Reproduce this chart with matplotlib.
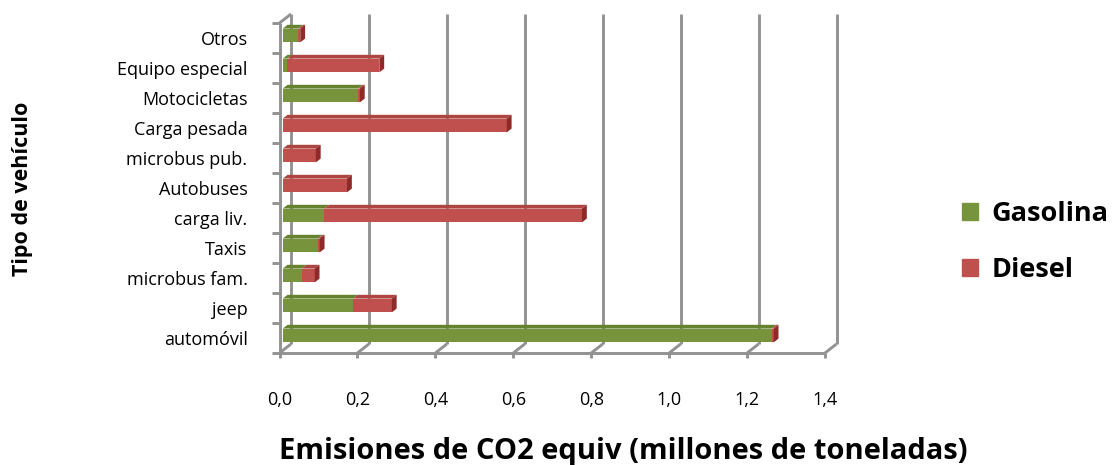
import matplotlib
matplotlib.use("Agg")
import matplotlib.pyplot as plt
from matplotlib.patches import Polygon, Patch

# Emissions by vehicle type (million tonnes CO2 equiv), bottom to top
categories = ["automóvil", "jeep", "microbus fam.", "Taxis", "carga liv.", "Autobuses",
              "microbus pub.", "Carga pesada", "Motocicletas", "Equipo especial", "Otros"]
gasolina = [1.255, 0.180, 0.049, 0.090, 0.107, 0.0, 0.0, 0.0, 0.193, 0.012, 0.040]
diesel = [0.005, 0.100, 0.033, 0.005, 0.661, 0.165, 0.085, 0.575, 0.005, 0.236, 0.005]
series_names = ["Gasolina", "Diesel"]
x_ticks = [0.0, 0.2, 0.4, 0.6, 0.8, 1.0, 1.2, 1.4]
x_tick_labels = ["0,0", "0,2", "0,4", "0,6", "0,8", "1,0", "1,2", "1,4"]

GREEN = "#77933C"
GREEN_TOP = "#66822F"
RED = "#C0504D"
RED_TOP = "#AD4542"
RED_SIDE = "#8E2A27"
GREEN_SIDE = "#4F6A22"
GRID = "#929292"

W, H = 1116, 465
fig = plt.figure(figsize=(W / 100, H / 100), dpi=100)

# front plane of the 3-D box, in pixels
x0_px, x1_px = 279.5, 825.0
y_bot_px, y_top_px = 353.0, 23.0
ax = fig.add_axes([x0_px / W, 1 - y_bot_px / H, (x1_px - x0_px) / W, (y_bot_px - y_top_px) / H])
xmax = x_ticks[-1]
n = len(categories)
ax.set_xlim(0, xmax)
ax.set_ylim(-0.5, n - 0.5)
for s in ax.spines.values():
    s.set_visible(False)

px_x = (x1_px - x0_px) / xmax
px_y = (y_bot_px - y_top_px) / n
DX = 11.5 / px_x          # depth of the box (back wall offset)
DY = 9.0 / px_y
ylo, yhi = -0.5, n - 0.5

line_kw = dict(color=GRID, lw=2.1, clip_on=False, solid_capstyle="butt", zorder=1)

# back-wall gridlines and their floor diagonals
for v in x_ticks:
    ax.plot([v + DX, v + DX], [ylo + DY, yhi + DY], **line_kw)
    ax.plot([v, v + DX], [ylo, ylo + DY], **line_kw)
    ax.plot([v, v], [ylo, ylo - 5 / px_y], **line_kw)
# floor front edge
ax.plot([0, xmax], [ylo, ylo], **line_kw)
# left wall front edge, top, and category ticks
ax.plot([0, 0], [ylo, yhi], **line_kw)
ax.plot([0, DX], [yhi, yhi + DY], **line_kw)
for k in range(n + 1):
    b = ylo + k
    ax.plot([-8 / px_x, 0], [b, b], **line_kw)

# 3-D bars
f0, f1 = 0.28, 0.70
h = 0.46
colors = [GREEN, RED]
tops = [GREEN_TOP, RED_TOP]
sides = [GREEN_SIDE, RED_SIDE]
for i in range(n):
    vals = [gasolina[i], diesel[i]]
    left = 0.0
    last = None
    yc = i + f0 * DY
    for j, v in enumerate(vals):
        if v <= 0:
            continue
        ax.barh(yc, v, left=left + f0 * DX, height=h, color=colors[j], lw=0, zorder=3)
        top = yc + h / 2
        ax.add_patch(Polygon([(left + f0 * DX, top), (left + v + f0 * DX, top),
                              (left + v + f1 * DX, top + (f1 - f0) * DY),
                              (left + f1 * DX, top + (f1 - f0) * DY)],
                             closed=True, fc=tops[j], ec="none", zorder=3, clip_on=False))
        left += v
        last = j
    if last is not None:
        e = left
        bot, top = yc - h / 2, yc + h / 2
        ax.add_patch(Polygon([(e + f0 * DX, bot), (e + f1 * DX, bot + (f1 - f0) * DY),
                              (e + f1 * DX, top + (f1 - f0) * DY), (e + f0 * DX, top)],
                             closed=True, fc=sides[last], ec="none", zorder=3, clip_on=False))

# tick labels
tick_font = dict(family="Open Sans", size=13)
ax.set_yticks(range(n))
ax.set_yticklabels(categories, **tick_font)
ax.set_xticks(x_ticks)
ax.set_xticklabels(x_tick_labels, **tick_font)
ax.tick_params(axis="y", length=0, pad=23)
ax.tick_params(axis="x", length=0, pad=27)

# axis titles
fig.text(23 / W, 1 - 189 / H, "Tipo de vehículo", rotation=90, ha="center", va="center",
         family="Open Sans", weight="bold", size=15.5)
fig.text(623 / W, 1 - 451 / H, "Emisiones de CO2 equiv (millones de toneladas)",
         ha="center", va="center", family="Open Sans", weight="bold", size=21)

# legend
handles = [Patch(color=GREEN), Patch(color=RED)]
fig.legend(handles, series_names, loc="center left", bbox_to_anchor=(962 / W, 1 - 242 / H),
           frameon=False, handlelength=0.6, handleheight=0.6, handletextpad=0.5,
           labelspacing=1.1, borderpad=0, borderaxespad=0,
           prop=dict(family="Open Sans", weight="bold", size=19.5))

fig.savefig("out.png", dpi=100)
